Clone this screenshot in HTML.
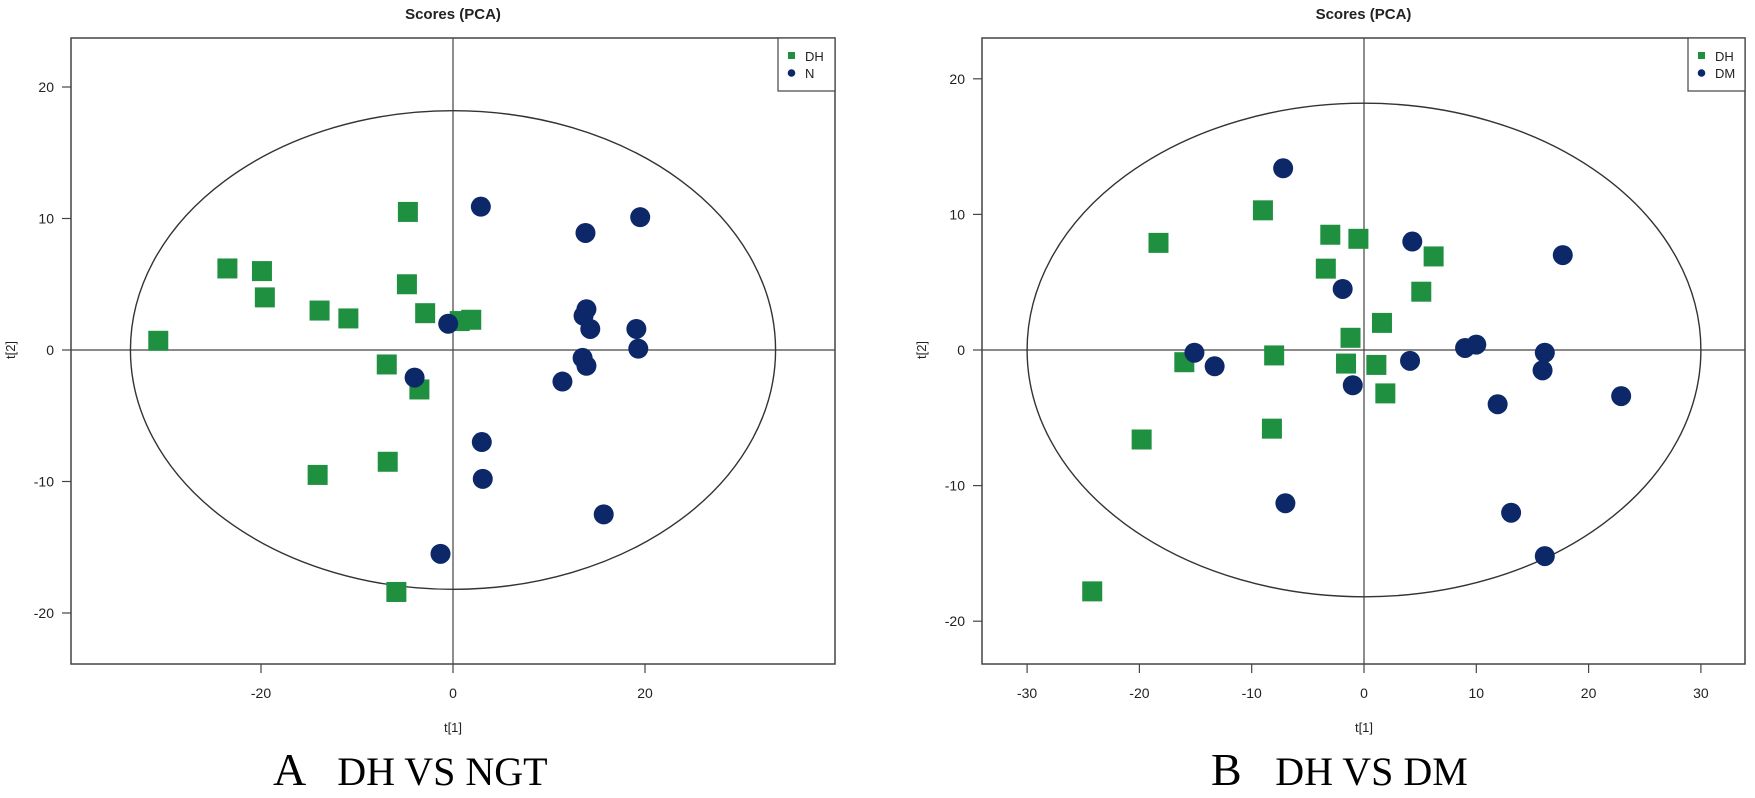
<!DOCTYPE html>
<html><head><meta charset="utf-8"><style>
html,body{margin:0;padding:0;background:#fff;}
svg text{font-family:"Liberation Sans",sans-serif;}
</style></head><body>
<svg id="fig" width="1755" height="793" xmlns="http://www.w3.org/2000/svg">
<text x="273" y="785" font-family="Liberation Serif, serif" font-size="46" fill="#000" style="font-family:'Liberation Serif',serif">A <tspan dx="22" font-size="40">DH VS NGT</tspan></text>
<text x="1211" y="785" font-family="Liberation Serif, serif" font-size="46" fill="#000" style="font-family:'Liberation Serif',serif">B <tspan dx="22" font-size="40">DH VS DM</tspan></text>
</svg>
<script>
// Panel A data
const aDHx=[-4.7,-23.5,-19.9,-19.6,-13.9,-10.9,-4.8,-2.9,-30.7,-6.9,-3.5,-6.8,-14.1,-5.9,0.7,1.9];
const aDHy=[10.5,6.2,6.0,4.0,3.0,2.4,5.0,2.8,0.7,-1.1,-3.0,-8.5,-9.5,-18.4,2.2,2.3];
const aNx=[2.9,19.5,13.8,-0.5,13.9,13.6,14.3,19.1,19.3,13.5,13.9,11.4,-4.0,3.0,3.1,15.7,-1.3];
const aNy=[10.9,10.1,8.9,2.0,3.1,2.6,1.6,1.6,0.1,-0.6,-1.2,-2.4,-2.1,-7.0,-9.8,-12.5,-15.5];
const aXTicks=[-20,0,20];
const aYTicks=[20,10,0,-10,-20];
const aLegend=["DH","N"];
// Panel B data
const bDHx=[-9.0,-18.3,-3.0,-0.5,-3.4,-1.2,-8.0,-1.6,-16.0,-8.2,-19.8,-24.2,6.2,5.1,1.6,1.1,1.9];
const bDHy=[10.3,7.9,8.5,8.2,6.0,0.9,-0.4,-1.0,-0.9,-5.8,-6.6,-17.8,6.9,4.3,2.0,-1.1,-3.2];
const bDMx=[-7.2,-1.9,-15.1,-13.3,-1.0,-7.0,4.3,17.7,9.0,10.0,16.1,15.9,4.1,11.9,22.9,13.1,16.1];
const bDMy=[13.4,4.5,-0.2,-1.2,-2.6,-11.3,8.0,7.0,0.15,0.4,-0.2,-1.5,-0.8,-4.0,-3.4,-12.0,-15.2];
const bXTicks=[-30,-20,-10,0,10,20,30];
const bYTicks=[20,10,0,-10,-20];
const bLegend=["DH","DM"];

const NS="http://www.w3.org/2000/svg";
const svg=document.getElementById('fig');
function mk(tag,attrs,parent){const e=document.createElementNS(NS,tag);for(const k in attrs)e.setAttribute(k,attrs[k]);(parent||svg).appendChild(e);return e;}
const GREEN="#1e9040",BLUE="#0d2869";

function panel(p,id){
  const sx=v=>p.x0+v*p.kx, sy=v=>p.y0-v*p.ky;
  const g=mk('g',{});
  
  
  const t=mk('text',{x:(p.L+p.R)/2,y:19,'text-anchor':'middle','font-size':15,'font-weight':'bold',fill:'#222'},g);
  t.textContent='Scores (PCA)';
  
  
  const box=mk('rect',{x:p.L,y:p.T,width:p.R-p.L,height:p.B-p.T,fill:'none',stroke:'#444','stroke-width':1.5},g);
  
  
  const zx=mk('line',{x1:sx(0),x2:sx(0),y1:p.T,y2:p.B,stroke:'#444','stroke-width':1.2},g);
  
  
  const zy=mk('line',{x1:p.L,x2:p.R,y1:sy(0),y2:sy(0),stroke:'#444','stroke-width':1.2},g);
  
  
  const el=mk('ellipse',{cx:sx(0),cy:sy(0),rx:p.erx*p.kx,ry:p.ery*p.ky,fill:'none',stroke:'#333','stroke-width':1.4},g);
  
  
  p.xt.forEach(v=>{
    const l=mk('line',{x1:sx(v),x2:sx(v),y1:p.B,y2:p.B+9,stroke:'#444','stroke-width':1.2},g);
    
    
    const tx=mk('text',{x:sx(v),y:p.B+34,'text-anchor':'middle','font-size':14,fill:'#222'},g);
    tx.textContent=v;
    
    
  });
  p.yt.forEach(v=>{
    const l=mk('line',{x1:p.L-9,x2:p.L,y1:sy(v),y2:sy(v),stroke:'#444','stroke-width':1.2},g);
    
    
    const tx=mk('text',{x:p.L-17,y:sy(v)+5,'text-anchor':'end','font-size':14,fill:'#222'},g);
    tx.textContent=v;
    
    
  });
  const xl=mk('text',{x:sx(0),y:p.B+68,'text-anchor':'middle','font-size':13,fill:'#222'},g);
  xl.textContent='t[1]';
  
  
  const yl=mk('text',{x:0,y:0,'text-anchor':'middle','font-size':13,fill:'#222',transform:`translate(${p.L-56},${sy(0)}) rotate(-90)`},g);
  yl.textContent='t[2]';
  
  
  p.s1x.forEach((v,i)=>{
    const r=mk('rect',{x:sx(v)-10,y:sy(p.s1y[i])-10,width:20,height:20,fill:GREEN},g);
    
    
  });
  p.s2x.forEach((v,i)=>{
    const c=mk('circle',{cx:sx(v),cy:sy(p.s2y[i]),r:10,fill:BLUE},g);
    
    
  });
  const lx=p.R-57;
  const lg=mk('g',{},g);
  
  
  mk('rect',{x:lx,y:p.T,width:57,height:53,fill:'#fff',stroke:'#444','stroke-width':1.2},lg);
  mk('rect',{x:lx+10,y:p.T+14,width:7,height:7,fill:GREEN},lg);
  mk('circle',{cx:lx+13.5,cy:p.T+35,r:3.8,fill:BLUE},lg);
  p.leg.forEach((s,i)=>{
    const tx=mk('text',{x:lx+27,y:p.T+23+i*17,'font-size':13,fill:'#222'},lg);
    tx.textContent=s;
    
    
  });
}
panel({L:71,R:835,T:38,B:664,x0:453,y0:350,kx:9.6,ky:13.15,erx:33.6,ery:18.2,xt:aXTicks,yt:aYTicks,s1x:aDHx,s1y:aDHy,s2x:aNx,s2y:aNy,leg:aLegend},'panel-a');
panel({L:982,R:1745,T:38,B:664,x0:1364,y0:350,kx:11.23,ky:13.56,erx:30,ery:18.2,xt:bXTicks,yt:bYTicks,s1x:bDHx,s1y:bDHy,s2x:bDMx,s2y:bDMy,leg:bLegend},'panel-b');
</script>
</body></html>
